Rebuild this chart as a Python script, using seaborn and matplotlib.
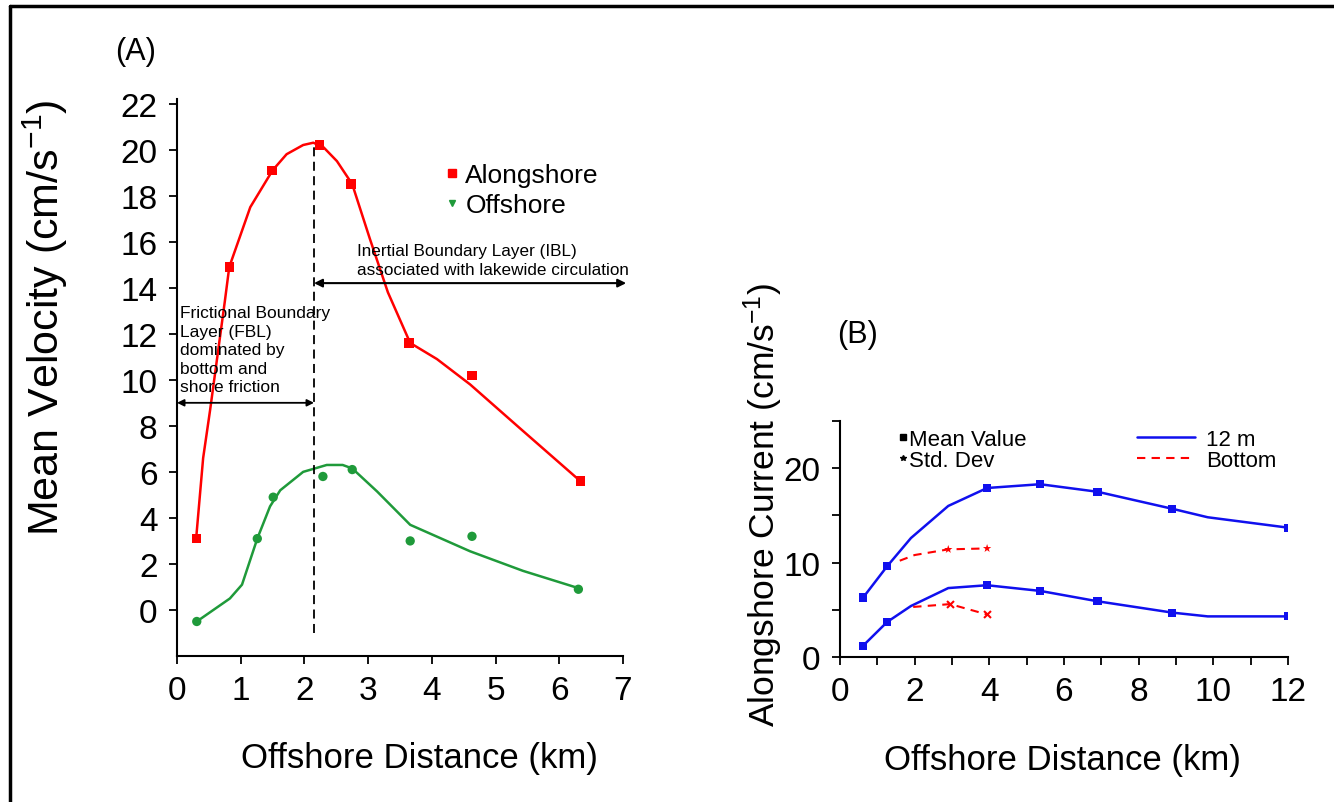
import matplotlib
matplotlib.use("Agg")
import matplotlib.pyplot as plt
import seaborn as sns
from matplotlib.lines import Line2D

# ---- panel A data ----
along_x = [0.31, 0.82, 1.49, 2.24, 2.73, 3.64, 4.63, 6.33]
along_y = [3.1, 14.9, 19.1, 20.2, 18.5, 11.6, 10.2, 5.6]
off_x = [0.31, 1.26, 1.51, 2.29, 2.75, 3.66, 4.63, 6.30]
off_y = [-0.5, 3.1, 4.9, 5.8, 6.1, 3.0, 3.2, 0.9]

# fitted curves
along_fit_x = [0.30, 0.41, 0.52, 0.75, 0.82, 1.15, 1.50, 1.72, 1.98, 2.14, 2.30, 2.51,
               2.75, 3.03, 3.31, 3.66, 4.08, 4.60, 5.38, 6.33]
along_fit_y = [3.1, 6.6, 8.7, 13.4, 14.9, 17.5, 19.1, 19.8, 20.2, 20.3, 20.1, 19.5,
               18.5, 16.1, 13.8, 11.6, 10.9, 9.8, 7.9, 5.6]
off_fit_x = [0.31, 0.83, 1.02, 1.26, 1.46, 1.62, 1.98, 2.35, 2.60, 2.75, 3.14, 3.66,
             4.60, 5.43, 6.30]
off_fit_y = [-0.5, 0.5, 1.1, 3.1, 4.5, 5.2, 6.0, 6.3, 6.3, 6.15, 5.15, 3.7,
             2.55, 1.7, 0.95]

fbl_edge = 2.15
fbl_arrow_y = 9.0
ibl_arrow_y = 14.2

# ---- panel B data ----
m12_x = [0.62, 1.26, 3.94, 5.36, 6.90, 8.90, 12.0]
m12_mean = [6.3, 9.6, 17.9, 18.3, 17.5, 15.7, 13.7]
m12_std = [1.2, 3.7, 7.6, 7.0, 5.9, 4.7, 4.3]
m12_fit_x = [0.62, 1.26, 1.90, 2.90, 3.94, 5.36, 6.90, 8.90, 9.85, 12.0]
m12_mean_fit = [6.3, 9.6, 12.6, 16.0, 17.9, 18.3, 17.5, 15.7, 14.8, 13.7]
m12_std_fit = [1.2, 3.7, 5.4, 7.3, 7.6, 7.0, 5.9, 4.7, 4.3, 4.3]

bot_mean_x = [1.60, 2.00, 2.90, 3.94]
bot_mean = [10.2, 10.8, 11.4, 11.5]
bot_std_x = [1.96, 2.95, 3.94]
bot_std = [5.3, 5.6, 4.5]

sns.set_style("ticks")
plt.rcParams["font.family"] = ["Liberation Sans", "DejaVu Sans"]
plt.rcParams["mathtext.fontset"] = "custom"
plt.rcParams["mathtext.rm"] = "Liberation Sans"
plt.rcParams["mathtext.it"] = "Liberation Sans"
for k in ["text.color", "axes.labelcolor", "xtick.color", "ytick.color", "axes.edgecolor"]:
    plt.rcParams[k] = "black"

fig = plt.figure(figsize=(13.34, 8.03), dpi=100)
ax1 = fig.add_axes([0.1327, 0.1818, 0.3343, 0.6937])
ax2 = fig.add_axes([0.6297, 0.1806, 0.3358, 0.2939])

# frame around the picture (left and top edges)
fig.add_artist(Line2D([0.0075, 0.0075], [0.0, 0.991], color="black", lw=2.5,
                      transform=fig.transFigure))
fig.add_artist(Line2D([0.0075, 1.0], [0.991, 0.991], color="black", lw=2.5,
                      transform=fig.transFigure))

# ---------------- panel A ----------------
green = "#1f9a3a"
sns.lineplot(x=along_fit_x, y=along_fit_y, sort=False, color="red", lw=1.8, ax=ax1)
sns.lineplot(x=off_fit_x, y=off_fit_y, sort=False, color=green, lw=1.8, ax=ax1)
sns.scatterplot(x=along_x, y=along_y, marker="s", color="red", s=45,
                edgecolor="none", ax=ax1)
sns.scatterplot(x=off_x, y=off_y, marker="o", color=green, s=45,
                edgecolor="none", ax=ax1)

ax1.plot([fbl_edge, fbl_edge], [-1.0, 20.3], color="black", lw=1.3, ls=(0, (5, 3)))

ax1.annotate("", xy=(0.0, fbl_arrow_y), xytext=(fbl_edge, fbl_arrow_y),
             arrowprops=dict(arrowstyle="<|-|>", color="black", lw=1.3,
                             mutation_scale=10, shrinkA=0, shrinkB=0))
ax1.annotate("", xy=(fbl_edge, ibl_arrow_y), xytext=(7.05, ibl_arrow_y),
             arrowprops=dict(arrowstyle="<|-|>", color="black", lw=1.5,
                             mutation_scale=12, shrinkA=0, shrinkB=0),
             annotation_clip=False)

ax1.text(0.05, 13.25, "Frictional Boundary\nLayer (FBL)\ndominated by\nbottom and\nshore friction",
         fontsize=12.5, va="top", ha="left", linespacing=1.3)
ax1.text(2.83, 15.95, "Inertial Boundary Layer (IBL)\nassociated with lakewide circulation",
         fontsize=12.3, va="top", ha="left", linespacing=1.35)

leg_handles = [Line2D([], [], marker="s", color="red", ls="none", markersize=6),
               Line2D([], [], marker="v", color=green, ls="none", markersize=5)]
ax1.legend(leg_handles, ["Alongshore", "Offshore"], loc="upper left",
           bbox_to_anchor=(0.54, 0.928), frameon=False, fontsize=19,
           handletextpad=0.1, handlelength=0.8, labelspacing=0.25)

ax1.set_xlim(0, 7)
ax1.set_ylim(-2, 22.2)
ax1.set_xticks(range(0, 8))
ax1.set_yticks(range(0, 23, 2))
ax1.tick_params(labelsize=24, length=6, width=1.3, pad=8)
ax1.set_xlabel("Offshore Distance (km)", fontsize=25)
ax1.xaxis.set_label_coords(0.543, -0.152)
ax1.set_ylabel("Mean Velocity (cm/s$^{-1}$)", fontsize=31)
ax1.yaxis.set_label_coords(-0.24, 0.61)
for s in ["left", "bottom"]:
    ax1.spines[s].set_linewidth(1.5)
sns.despine(ax=ax1)
ax1.text(-0.094, 1.086, "(A)", transform=ax1.transAxes, fontsize=22, ha="center", va="center")

# ---------------- panel B ----------------
blue = "#1010ee"
sns.lineplot(x=m12_fit_x, y=m12_mean_fit, sort=False, color=blue, lw=1.8, ax=ax2)
sns.lineplot(x=m12_fit_x, y=m12_std_fit, sort=False, color=blue, lw=1.8, ax=ax2)
sns.scatterplot(x=m12_x, y=m12_mean, marker="s", color=blue, s=35, edgecolor="none", ax=ax2)
sns.scatterplot(x=m12_x, y=m12_std, marker="s", color=blue, s=35, edgecolor="none", ax=ax2)
sns.lineplot(x=bot_mean_x, y=bot_mean, sort=False, color="red", lw=1.5,
             ls=(0, (4, 3)), ax=ax2)
sns.lineplot(x=bot_std_x, y=bot_std, sort=False, color="red", lw=1.5,
             ls=(0, (4, 3)), ax=ax2)
sns.scatterplot(x=bot_mean_x[2:], y=bot_mean[2:], marker="*", color="red", s=40,
                edgecolor="none", ax=ax2)
sns.scatterplot(x=bot_std_x[1:], y=bot_std[1:], marker="x", color="red", s=25,
                linewidth=1.5, ax=ax2)

mk_handles = [Line2D([], [], marker="s", color="black", ls="none", markersize=4),
              Line2D([], [], marker="*", color="black", ls="none", markersize=4)]
leg1 = ax2.legend(mk_handles, ["Mean Value", "Std. Dev"], loc="upper left",
                  bbox_to_anchor=(0.08, 1.05), frameon=False, fontsize=16,
                  handletextpad=0.0, handlelength=0.6, labelspacing=0.0)
ax2.add_artist(leg1)
ln_handles = [Line2D([], [], color=blue, lw=1.8),
              Line2D([], [], color="red", lw=1.5, ls=(0, (4, 3)))]
ax2.legend(ln_handles, ["12 m", "Bottom"], loc="upper left",
           bbox_to_anchor=(0.618, 1.05), frameon=False, fontsize=16,
           handletextpad=0.5, handlelength=2.6, labelspacing=0.0)

ax2.set_xlim(0, 12)
ax2.set_ylim(0, 25)
ax2.set_xticks(range(0, 13, 2))
ax2.set_xticks(range(0, 13), minor=True)
ax2.set_yticks([0, 10, 20])
ax2.set_yticks([5, 15, 25], minor=True)
ax2.tick_params(labelsize=24, length=6, width=1.3, pad=8)
ax2.tick_params(which="minor", length=6, width=1.3)
ax2.set_xlabel("Offshore Distance (km)", fontsize=25)
ax2.xaxis.set_label_coords(0.496, -0.365)
ax2.set_ylabel("Alongshore Current (cm/s$^{-1}$)", fontsize=25.5)
ax2.yaxis.set_label_coords(-0.123, 0.648)
for s in ["left", "bottom"]:
    ax2.spines[s].set_linewidth(1.5)
sns.despine(ax=ax2)
ax2.text(0.038, 1.369, "(B)", transform=ax2.transAxes, fontsize=22, ha="center", va="center")

fig.savefig("out.png", dpi=100)
